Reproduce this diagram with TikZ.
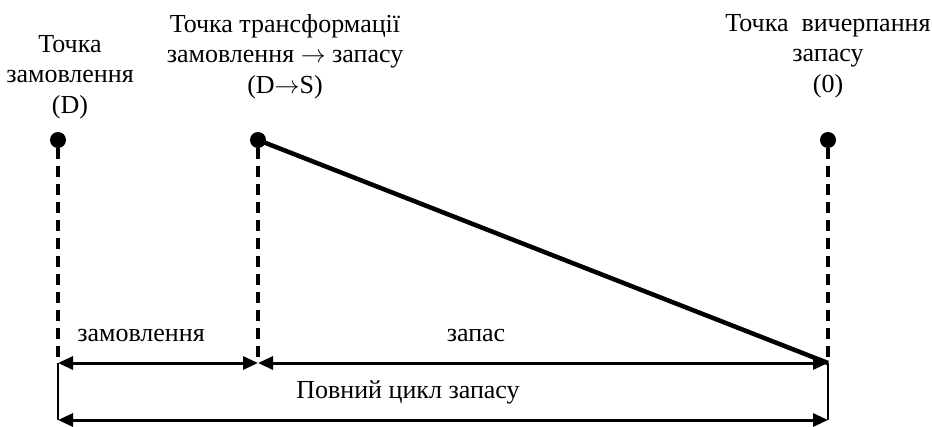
\documentclass[tikz,border=0pt]{standalone}
\usepackage{fontspec}
\setmainfont{Liberation Serif}
\usetikzlibrary{arrows.meta}
\begin{document}
\begin{tikzpicture}[x=1pt,y=-1pt,
  dot/.style={circle,fill=black,inner sep=0pt,minimum size=16pt},
  guide/.style={line width=3.3pt,dash pattern=on 11pt off 7pt},
  dim/.style={line width=3pt,{Triangle[length=15pt,width=13pt]}-{Triangle[length=15pt,width=13pt]}},
  thin/.style={line width=1.5pt},
  lbl/.style={font=\fontsize{26}{30.5}\selectfont,align=center,inner sep=0pt}]
\useasboundingbox (0,0) rectangle (932,426);
\node[dot] (d) at (58,140) {};
\node[dot] (s) at (258,140) {};
\node[dot] (z) at (828,140) {};
\coordinate (d1) at (58,363);
\coordinate (s1) at (258,363);
\coordinate (z1) at (828,363);
\coordinate (d2) at (58,420);
\coordinate (z2) at (828,420);
\draw[guide] (d.south) -- (d1);
\draw[guide] (s.south) -- (s1);
\draw[guide] (z.south) -- (z1);
\draw[line width=4.5pt] (s.center) -- (z1);
\draw[thin] (d1) -- (d2);
\draw[thin] (z1) -- (z2);
\draw[dim] (d1) -- (s1);
\draw[dim] (s1) -- (z1);
\draw[dim] (d2) -- (z2);
\node[lbl,anchor=base] (tD) at (70,113) {Точка\\замовлення\\(D)};
\node[lbl,anchor=base] (tS) at (285,93) {Точка трансформації\\замовлення \ensuremath{\rightarrow} запасу\\(D\ensuremath{\rightarrow}S)};
\node[lbl,anchor=base] (t0) at (828,92) {Точка\ \ вичерпання\\запасу\\(0)};
\node[lbl,anchor=base] (lz) at (141,341) {замовлення};
\node[lbl,anchor=base] (lzp) at (476,341) {запас};
\node[lbl,anchor=base] (lc) at (408,398) {Повний цикл запасу};
\end{tikzpicture}
\end{document}
